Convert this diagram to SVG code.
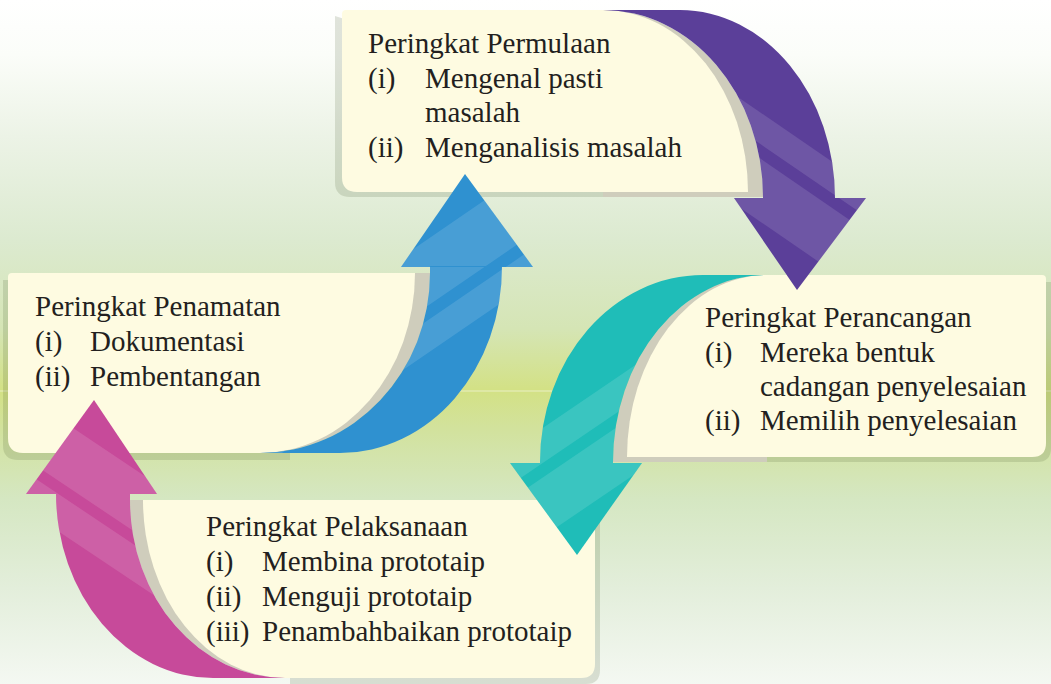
<svg xmlns="http://www.w3.org/2000/svg" width="1051" height="684" viewBox="0 0 1051 684">
  <defs>
    <linearGradient id="bg" x1="0" y1="0" x2="0" y2="1">
      <stop offset="0" stop-color="#ffffff"/>
      <stop offset="0.08" stop-color="#fbfdf9"/>
      <stop offset="0.2" stop-color="#ecf3e6"/>
      <stop offset="0.35" stop-color="#dcead0"/>
      <stop offset="0.48" stop-color="#d5e5b5"/>
      <stop offset="0.57" stop-color="#d3e185"/>
      <stop offset="0.63" stop-color="#d2e29e"/>
      <stop offset="0.73" stop-color="#d5e7c2"/>
      <stop offset="0.86" stop-color="#e3eedb"/>
      <stop offset="1" stop-color="#f4f8f2"/>
    </linearGradient>
    <clipPath id="clip-purple">
      <path d="M603,10 L680,10 A155 188 0 0 1 835 199 L763 199 L763 197 A160 187 0 0 0 603 10 Z"/>
      <polygon points="734,198 866,198 797,290"/>
    </clipPath>
    <clipPath id="clip-blue">
      <path d="M430,266 L502,266 A162 186 0 0 1 340 453 L260 453 A170 180 0 0 0 430 273 Z"/>
      <polygon points="401,267 533,267 465,174"/>
    </clipPath>
    <clipPath id="clip-teal">
      <path d="M767,275 L703,275 A163 187 0 0 0 540 462 L540 464 L613 464 L613 462 A154 187 0 0 1 767 275 Z"/>
      <polygon points="510,463 642,463 577,555"/>
    </clipPath>
    <clipPath id="clip-pink">
      <path d="M56,494 L130,494 L130,500 A155 178 0 0 0 285 678 L213 678 A157 185 0 0 1 56 493 Z"/>
      <polygon points="26,494 157,494 94,400"/>
    </clipPath>
  </defs>
  <style>
    .label { font-family: "Liberation Serif", "Times New Roman", serif; font-size: 29px; fill: #231f20; }
    .card { fill: #fefbe1; }
    .rim { fill: #cfcdbc; }
    .shade { fill: #44552a; fill-opacity: 0.16; }
    .sheen { fill: #ffffff; fill-opacity: 0.12; }
    .purple { fill: #5b3f99; }
    .blue { fill: #2f91d0; }
    .teal { fill: #1fbdb8; }
    .pink { fill: #c74a9a; }
  </style>

  <!-- backdrop -->
  <rect x="0" y="0" width="1051" height="684" fill="url(#bg)"/>
  <rect x="0" y="390.5" width="1051" height="1" fill="#f3f6e0" opacity="0.7"/>

  <!-- top card -->
  <g id="node-permulaan">
    <path class="shade" d="M335,16 L335,182 Q335,197 350,197 L763,197 L603,100 Z"/>
    <path class="rim" d="M603,10 A160 187 0 0 1 763 197 L603 197 Z"/>
    <path class="card" d="M346,10 L603,10 A145 182 0 0 1 748 192 L357 192 Q342 192 342 177 L342 14 Q342 10 346 10 Z"/>
    <text class="label" x="368" y="53">Peringkat Permulaan</text>
    <text class="label" x="368" y="88">(i)</text>
    <text class="label" x="425" y="88">Mengenal pasti</text>
    <text class="label" x="425" y="122">masalah</text>
    <text class="label" x="368" y="157">(ii)</text>
    <text class="label" x="425" y="157">Menganalisis masalah</text>
  </g>

  <!-- right card -->
  <g id="node-perancangan">
    <path class="shade" d="M700,282 L1051,282 L1051,448 Q1051,462 1037,462 L613,462 Z"/>
    <path class="rim" d="M767,275 L767,462 L613,462 A154 187 0 0 1 767 275 Z"/>
    <path class="card" d="M767,275 L1042,275 Q1046,275 1046,279 L1046,443 Q1046,457 1032,457 L627,457 A140 182 0 0 1 767 275 Z"/>
    <text class="label" x="705" y="327">Peringkat Perancangan</text>
    <text class="label" x="705" y="362">(i)</text>
    <text class="label" x="760" y="362">Mereka bentuk</text>
    <text class="label" x="760" y="396">cadangan penyelesaian</text>
    <text class="label" x="705" y="430">(ii)</text>
    <text class="label" x="760" y="430">Memilih penyelesaian</text>
  </g>

  <!-- left card -->
  <g id="node-penamatan">
    <path class="shade" d="M3,280 L3,445 Q3,460 18,460 L290,460 L290,400 L100,280 Z"/>
    <path class="rim" d="M260,273 L430,273 A170 180 0 0 1 260 453 Z"/>
    <path class="card" d="M12,273 L415,273 A155 180 0 0 1 260 453 L23 453 Q8 453 8 438 L8 277 Q8 273 12 273 Z"/>
    <text class="label" x="35" y="316">Peringkat Penamatan</text>
    <text class="label" x="35" y="351">(i)</text>
    <text class="label" x="90" y="351">Dokumentasi</text>
    <text class="label" x="35" y="386">(ii)</text>
    <text class="label" x="90" y="386">Pembentangan</text>
  </g>

  <!-- bottom card -->
  <g id="node-pelaksanaan">
    <path class="shade" d="M290,505 L600,505 L600,670 Q600,684 586,684 L290,684 Z"/>
    <path class="rim" d="M130,500 L285,500 L285,678 A155 178 0 0 1 130 500 Z"/>
    <path class="card" d="M143,500 L591,500 Q595,500 595,504 L595,664 Q595,678 581,678 L285,678 A142 178 0 0 1 143 500 Z"/>
    <text class="label" x="206" y="536">Peringkat Pelaksanaan</text>
    <text class="label" x="206" y="571">(i)</text>
    <text class="label" x="262" y="571">Membina prototaip</text>
    <text class="label" x="206" y="606">(ii)</text>
    <text class="label" x="262" y="606">Menguji prototaip</text>
    <text class="label" x="206" y="641">(iii)</text>
    <text class="label" x="262" y="641">Penambahbaikan prototaip</text>
  </g>

  <!-- curved arrows linking the stages -->
  <g id="connectors">
    <g id="arrow-permulaan-perancangan">
      <path class="purple" d="M603,10 L680,10 A155 188 0 0 1 835 199 L763 199 L763 197 A160 187 0 0 0 603 10 Z"/>
      <polygon class="purple" points="734,198 866,198 797,290"/>
      <g clip-path="url(#clip-purple)">
        <g transform="rotate(34.5)">
          <rect class="sheen" x="400" y="-338" width="700" height="26"/>
          <rect class="sheen" x="400" y="-300" width="700" height="52"/>
        </g>
      </g>
    </g>
    <g id="arrow-perancangan-pelaksanaan">
      <path class="teal" d="M767,275 L703,275 A163 187 0 0 0 540 462 L540 464 L613 464 L613 462 A154 187 0 0 1 767 275 Z"/>
      <polygon class="teal" points="510,463 642,463 577,555"/>
      <g clip-path="url(#clip-teal)">
        <g transform="rotate(-34.2)">
          <rect class="sheen" x="-100" y="659" width="900" height="29"/>
          <rect class="sheen" x="-100" y="700" width="900" height="49"/>
        </g>
      </g>
    </g>
    <g id="arrow-pelaksanaan-penamatan">
      <path class="pink" d="M56,494 L130,494 L130,500 A155 178 0 0 0 285 678 L213 678 A157 185 0 0 1 56 493 Z"/>
      <polygon class="pink" points="26,494 157,494 94,400"/>
      <g clip-path="url(#clip-pink)">
        <g transform="rotate(33.8)">
          <rect class="sheen" x="0" y="315" width="800" height="52"/>
          <rect class="sheen" x="0" y="378" width="800" height="31"/>
        </g>
      </g>
    </g>
    <g id="arrow-penamatan-permulaan">
      <path class="blue" d="M430,266 L502,266 A162 186 0 0 1 340 453 L260 453 A170 180 0 0 0 430 273 Z"/>
      <polygon class="blue" points="401,267 533,267 465,174"/>
      <g clip-path="url(#clip-blue)">
        <g transform="rotate(-34.4)">
          <rect class="sheen" x="-200" y="439" width="900" height="55"/>
          <rect class="sheen" x="-200" y="506" width="900" height="27"/>
        </g>
      </g>
    </g>
  </g>
</svg>
